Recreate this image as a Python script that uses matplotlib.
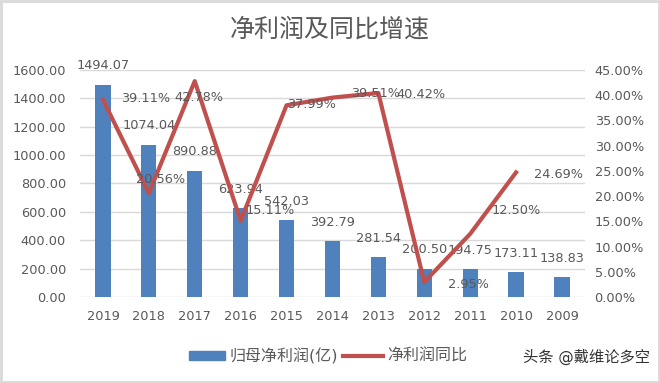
import matplotlib.pyplot as plt
import numpy as np

plt.rcParams['font.family'] = ['DejaVu Sans', 'Noto Sans CJK SC']

years = ["2019", "2018", "2017", "2016", "2015", "2014", "2013", "2012", "2011", "2010", "2009"]
profit = [1494.07, 1074.04, 890.88, 623.94, 542.03, 392.79, 281.54, 200.50, 194.75, 173.11, 138.83]
growth = [39.11, 20.56, 42.78, 15.11, 37.99, 39.51, 40.42, 2.95, 12.50, 24.69]

# where each growth label sits relative to its point (pixels)
growth_label_offsets = [(43, 1), (12, 14), (4, -16), (30, 10), (25, 1),
                        (43, 4), (43, -1), (44, -2), (46, 23), (42, -2)]

bar_color = "#4F81BD"
line_color = "#C0504D"
text_color = "#595959"
fs = 9.3

fig = plt.figure(figsize=(6.6, 3.83), dpi=100)
ax = fig.add_axes([0.1212, 0.2245, 0.765, 0.593])
x = np.arange(len(years))

ax.bar(x, profit, width=0.33, color=bar_color, zorder=2)
for xi, v in zip(x, profit):
    ax.annotate(f"{v:.2f}", (xi, v), xytext=(0, 19), textcoords="offset pixels",
                ha="center", va="center", fontsize=fs, color=text_color, zorder=5)

ax.set_ylim(0, 1600)
ax.set_yticks(np.arange(0, 1601, 200))
ax.set_yticklabels([f"{t:.2f}" for t in np.arange(0, 1601, 200)])
ax.set_xlim(-0.5, len(years) - 0.5)
ax.set_xticks(x)
ax.set_xticklabels(years)
ax.grid(axis="y", color="#D9D9D9", linewidth=1, zorder=0)
ax.tick_params(axis="y", length=0, colors=text_color, labelsize=fs, pad=10)
ax.tick_params(axis="x", length=0, colors=text_color, labelsize=fs, pad=9)
for s in ax.spines.values():
    s.set_visible(False)

ax2 = ax.twinx()
ax2.plot(x[:len(growth)], growth, color=line_color, linewidth=3, zorder=3)
for xi, v, off in zip(x, growth, growth_label_offsets):
    ax2.annotate(f"{v:.2f}%", (xi, v), xytext=off, textcoords="offset pixels",
                 ha="center", va="center", fontsize=fs, color=text_color, zorder=5)
ax2.set_ylim(0, 45)
ax2.set_yticks(np.arange(0, 46, 5))
ax2.set_yticklabels([f"{t:.2f}%" for t in np.arange(0, 46, 5)])
ax2.tick_params(length=0, colors=text_color, labelsize=fs, pad=7)
for s in ax2.spines.values():
    s.set_visible(False)

fig.text(0.5, 0.923, "净利润及同比增速", ha="center", va="center", fontsize=18, color=text_color)

# legend
fig.patches.append(plt.Rectangle((189 / 660, 1 - 360 / 383), 36 / 660, 9 / 383,
                                 transform=fig.transFigure, color=bar_color, figure=fig))
fig.text(230 / 660, 1 - 356 / 383, "归母净利润(亿)", ha="left", va="center",
         fontsize=11.5, color=text_color)
fig.add_artist(plt.Line2D([343 / 660, 383 / 660], [1 - 356 / 383, 1 - 356 / 383],
                          transform=fig.transFigure, color=line_color, linewidth=3))
fig.text(387 / 660, 1 - 356 / 383, "净利润同比", ha="left", va="center",
         fontsize=11.5, color=text_color)
fig.text(650 / 660, 1 - 357 / 383, "头条 @戴维论多空", ha="right", va="center",
         fontsize=11, color="#333333")

fig.patches.append(plt.Rectangle((0.002, 0.003), 0.996, 0.994, transform=fig.transFigure,
                                 fill=False, edgecolor="#D9D9D9", linewidth=2, figure=fig))

fig.savefig("out.png", dpi=100)
